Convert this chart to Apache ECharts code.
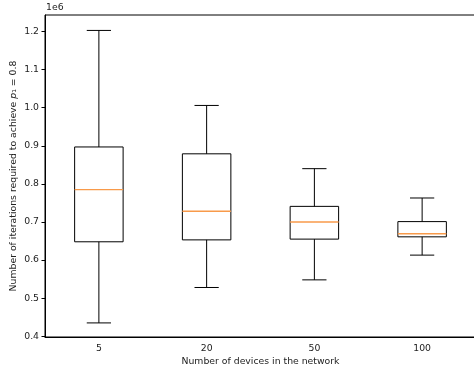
<!DOCTYPE html>
<html>
<head>
<meta charset="utf-8">
<script src="https://cdn.jsdelivr.net/npm/echarts@6/dist/echarts.min.js"></script>
<style>
  html, body { margin: 0; padding: 0; background: #fff; }
  #main { width: 474px; height: 373px; }
</style>
</head>
<body>
<div id="main"></div>
<script>
// devices in the network
var categories = ['5', '20', '50', '100'];
// box statistics (iterations)
var lowWhisker = [435000, 528000, 548000, 613000];
var q1 = [648000, 653000, 655000, 661000];
var median = [785000, 728000, 700000, 669000];
var q3 = [897000, 879000, 741000, 701000];
var highWhisker = [1203000, 1006000, 840000, 763000];
var yTicks = [400000, 500000, 600000, 700000, 800000, 900000, 1000000, 1100000, 1200000];

var boxData = categories.map(function (c, i) {
	return [i, lowWhisker[i], q1[i], median[i], q3[i], highWhisker[i]];
});

var font = 'DejaVu Sans';
var txt = '#222';

function renderBox(params, api) {
	var x = api.value(0);
	var band = api.size([1, 0])[0];
	var hw = band * 0.225;   // half box width
	var cw = band * 0.1125;  // half cap width
	var cx = api.coord([x, api.value(3)])[0];
	var yLow = api.coord([x, api.value(1)])[1];
	var yQ1 = api.coord([x, api.value(2)])[1];
	var yMed = api.coord([x, api.value(3)])[1];
	var yQ3 = api.coord([x, api.value(4)])[1];
	var yHigh = api.coord([x, api.value(5)])[1];
	var black = { stroke: '#000', lineWidth: 1, fill: null };
	return {
		type: 'group',
		children: [
			{ type: 'rect', shape: { x: cx - hw, y: yQ3, width: hw * 2, height: yQ1 - yQ3 }, style: black },
			{ type: 'line', shape: { x1: cx, y1: yQ1, x2: cx, y2: yLow }, style: black },
			{ type: 'line', shape: { x1: cx, y1: yQ3, x2: cx, y2: yHigh }, style: black },
			{ type: 'line', shape: { x1: cx - cw, y1: yLow, x2: cx + cw, y2: yLow }, style: black },
			{ type: 'line', shape: { x1: cx - cw, y1: yHigh, x2: cx + cw, y2: yHigh }, style: black },
			{ type: 'line', shape: { x1: cx - hw, y1: yMed, x2: cx + hw, y2: yMed }, style: { stroke: '#f89a4a', lineWidth: 1.4 } }
		]
	};
}

var myChart = echarts.init(document.getElementById('main'));
option = {
	animation: false,
	textStyle: { fontFamily: font },
	grid: {
		left: 45,
		top: 15,
		width: 431,
		height: 322,
		outerBoundsMode: 'none',
		containLabel: false,
		show: true,
		borderColor: '#000',
		borderWidth: 1
	},
	graphic: [
		{
			type: 'text',
			left: 46,
			top: 3,
			style: { text: '1e6', font: '9.3px "DejaVu Sans"', fill: txt }
		}
	],
	xAxis: {
		type: 'category',
		data: categories,
		boundaryGap: true,
		name: 'Number of devices in the network',
		nameLocation: 'middle',
		nameGap: 20,
		nameMoveOverlap: false,
		nameTextStyle: { fontFamily: font, fontSize: 9.3, color: txt },
		axisLine: { lineStyle: { color: '#000', width: 1 } },
		axisTick: { alignWithLabel: true, length: 3.5, lineStyle: { color: '#000' } },
		axisLabel: { margin: 7, fontFamily: font, fontSize: 9.3, color: txt },
		splitLine: { show: false }
	},
	yAxis: {
		type: 'value',
		min: 398000,
		max: 1243500,
		name: 'Number of iterations required to achieve {i|p}₁ = 0.8',
		nameLocation: 'middle',
		nameGap: 27,
		nameMoveOverlap: false,
		nameTextStyle: {
			fontFamily: font, fontSize: 9.3, color: txt,
			rich: { i: { fontFamily: font, fontSize: 9.3, fontStyle: 'italic', color: txt } }
		},
		axisLine: { show: true, lineStyle: { color: '#000', width: 1 } },
		axisTick: { show: true, length: 3.5, lineStyle: { color: '#000' }, customValues: yTicks },
		axisLabel: {
			margin: 6, fontFamily: font, fontSize: 9.3, color: txt,
			customValues: yTicks,
			formatter: function (v) { return (v / 1e6).toFixed(1); }
		},
		splitLine: { show: false }
	},
	series: [
		{
			type: 'custom',
			renderItem: renderBox,
			encode: { x: 0, y: [1, 2, 3, 4, 5] },
			data: boxData
		}
	]
};
myChart.setOption(option);
</script>
</body>
</html>
